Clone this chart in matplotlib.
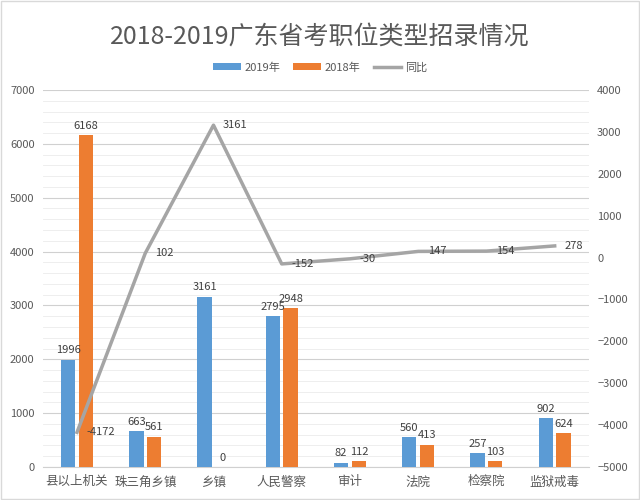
import matplotlib
matplotlib.use("Agg")
import matplotlib.pyplot as plt
import numpy as np

plt.rcParams['font.family'] = ['Noto Sans CJK SC', 'DejaVu Sans']

categories = ["县以上机关", "珠三角乡镇", "乡镇", "人民警察", "审计", "法院", "检察院", "监狱戒毒"]
y2019 = [1996, 663, 3161, 2795, 82, 560, 257, 902]
y2018 = [6168, 561, 0, 2948, 112, 413, 103, 624]
yoy = [-4172, 102, 3161, -152, -30, 147, 154, 278]
left_ticks = [0, 1000, 2000, 3000, 4000, 5000, 6000, 7000]
right_ticks = [-5000, -4000, -3000, -2000, -1000, 0, 1000, 2000, 3000, 4000]

blue = "#5B9BD5"
orange = "#ED7D31"
gray = "#A5A5A5"
txt = "#595959"

fig = plt.figure(figsize=(6.4, 5.0), dpi=100)
ax = fig.add_axes([0.067, 0.066, 0.853, 0.754])
ax2 = ax.twinx()

x = np.arange(len(categories))
w = 0.21
off = 0.13
b1 = ax.bar(x - off, y2019, w, color=blue, label="2019年", zorder=3)
b2 = ax.bar(x + off, y2018, w, color=orange, label="2018年", zorder=3)
ax.set_ylim(0, 7000)
ax.set_xlim(-0.5, len(categories) - 0.5)
ax.set_yticks(left_ticks)
ax.set_yticks(np.arange(0, 7001, 200), minor=True)
ax.set_xticks(x)
ax.set_xticklabels(categories, fontsize=9, color=txt)
for t in ax.get_yticklabels():
    t.set_fontsize(8)
    t.set_color(txt)

for rect, v in zip(b1, y2019):
    ax.text(rect.get_x() + rect.get_width() / 2, v + 80, str(v), ha="center", va="bottom", fontsize=8, color="#404040", zorder=5)
for rect, v in zip(b2, y2018):
    ax.text(rect.get_x() + rect.get_width() / 2, v + 80, str(v), ha="center", va="bottom", fontsize=8, color="#404040", zorder=5)

ax2.plot(x, yoy, color=gray, lw=2.5, label="同比", zorder=4)
ax2.set_ylim(-5000, 4000)
ax2.set_yticks(right_ticks)
for t in ax2.get_yticklabels():
    t.set_fontsize(8)
    t.set_color(txt)
for xi, v in zip(x, yoy):
    ax2.text(xi + 0.14, v, str(v), ha="left", va="center", fontsize=8, color="#404040", zorder=5)

# gridlines
ax.grid(True, which="major", axis="y", color="#D0D0D0", lw=0.8, zorder=0)
ax.grid(True, which="minor", axis="y", color="#EBEBEB", lw=0.6, zorder=0)
ax.set_axisbelow(True)

for a in (ax, ax2):
    for s in a.spines.values():
        s.set_visible(False)
    a.tick_params(length=0, pad=6, which="both")
ax.spines['bottom'].set_visible(True)
ax.spines['bottom'].set_color("#D0D0D0")
ax2.set_zorder(ax.get_zorder() + 1)
ax2.patch.set_visible(False)

fig.text(0.5, 0.925, "2018-2019广东省考职位类型招录情况", ha="center", va="center", fontsize=18, color=txt)

h1, l1 = ax.get_legend_handles_labels()
h2, l2 = ax2.get_legend_handles_labels()
fig.legend(h1 + h2, l1 + l2, loc="center", bbox_to_anchor=(0.5, 0.865), ncol=3, frameon=False,
           fontsize=8, handlelength=2.5, handleheight=0.6, columnspacing=1.2, handletextpad=0.3, labelcolor=txt)

fig.patches.append(plt.Rectangle((0.002, 0.002), 0.996, 0.996, transform=fig.transFigure, fill=False, edgecolor="#D9D9D9", lw=1))

fig.savefig("out.png", dpi=100)
